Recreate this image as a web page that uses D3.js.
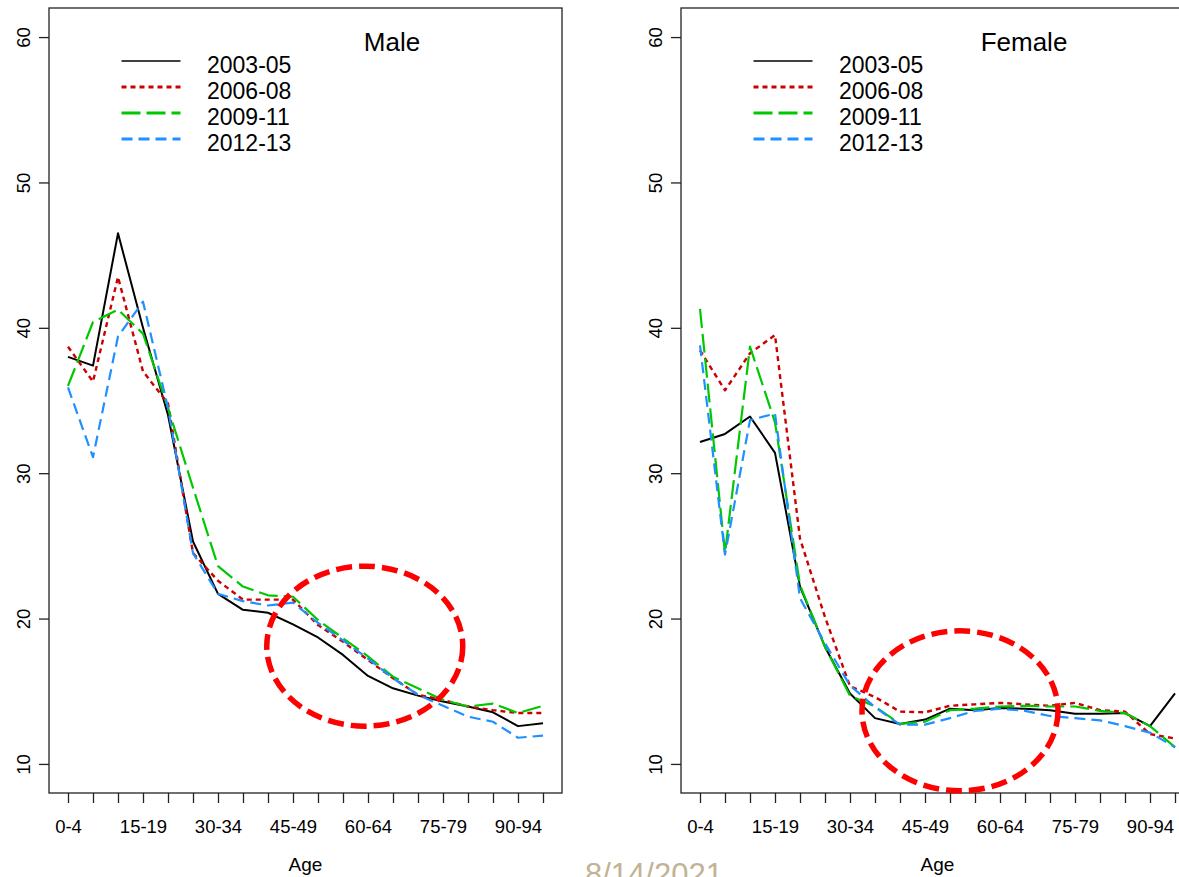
<!DOCTYPE html>
<html>
<head>
<meta charset="utf-8">
<script src="https://cdn.jsdelivr.net/npm/d3@7"></script>
<style>
  html, body { margin: 0; padding: 0; background: #fff; }
  svg { display: block; }
  text { font-family: "Liberation Sans", Arial, Helvetica, sans-serif; fill: #000; }
</style>
</head>
<body>
<svg id="chart" width="1179" height="877"></svg>
<script>
// Age groups on the x axis (every third one is labelled)
const ageGroups = ["0-4","5-9","10-14","15-19","20-24","25-29","30-34","35-39","40-44","45-49",
                   "50-54","55-59","60-64","65-69","70-74","75-79","80-84","85-89","90-94","95-99"];
const labelledGroups = ["0-4","15-19","30-34","45-49","60-64","75-79","90-94"];
const periods = ["2003-05","2006-08","2009-11","2012-13"];
const yTicks = [10, 20, 30, 40, 50, 60];

// Male rates by period
const male2003 = [38.0, 37.4, 46.5, 40.0, 34.0, 25.3, 21.7, 20.6, 20.4, 19.6, 18.7, 17.5, 16.05, 15.2, 14.7, 14.3, 13.95, 13.55, 12.6, 12.8];
const male2006 = [38.7, 36.3, 43.5, 37.0, 34.8, 24.5, 22.6, 21.3, 21.3, 21.3, 19.55, 18.4, 17.15, 15.9, 14.75, 14.4, 13.95, 13.7, 13.5, 13.5];
const male2009 = [36.0, 40.4, 41.25, 39.6, 34.5, 29.0, 23.6, 22.2, 21.6, 21.5, 19.9, 18.65, 17.4, 16.0, 15.2, 14.4, 13.95, 14.15, 13.5, 14.0];
const male2012 = [35.9, 31.1, 39.4, 41.8, 34.5, 24.5, 21.7, 21.2, 20.9, 21.1, 19.7, 18.5, 17.25, 15.9, 14.75, 14.0, 13.25, 12.9, 11.8, 11.95];

// Female rates by period
const female2003 = [32.15, 32.7, 33.9, 31.4, 22.2, 18.05, 14.85, 13.15, 12.75, 13.05, 13.8, 13.7, 13.85, 13.8, 13.7, 13.45, 13.45, 13.5, 12.6, 14.85];
const female2006 = [38.45, 35.7, 38.25, 39.5, 25.5, 20.1, 15.35, 14.6, 13.6, 13.55, 14.0, 14.1, 14.2, 14.1, 14.0, 14.2, 13.7, 13.6, 12.05, 11.75];
const female2009 = [41.3, 24.5, 38.7, 33.5, 22.3, 18.05, 14.7, 13.95, 12.75, 12.9, 13.7, 13.8, 13.95, 14.0, 13.95, 13.95, 13.65, 13.5, 12.6, 11.15];
const female2012 = [38.8, 24.4, 33.65, 34.1, 21.4, 18.3, 15.4, 13.9, 12.7, 12.7, 13.15, 13.65, 13.8, 13.65, 13.3, 13.15, 13.0, 12.6, 12.15, 11.15];

// Line styles per period
const periodColors = ["#000000", "#cd0000", "#00c800", "#1e90ff"];
const periodDash = [null, "5,4", "19,6", "11,6"];
const periodWidth = [2, 2.4, 2.2, 2.2];
const legendWidth = [1.5, 3, 3, 3];

const panels = [
  { title: "Male",   left: 49,  series: [male2003, male2006, male2009, male2012],         circle: { i: 11.87, v: 18.1 } },
  { title: "Female", left: 681, series: [female2003, female2006, female2009, female2012], circle: { i: 10.4,  v: 13.65 } }
];

const svg = d3.select("#chart");
svg.append("rect").attr("width", 1179).attr("height", 877).attr("fill", "#fff");

const panelWidth = 513;
const n = ageGroups.length;
const pad = 0.04 * (n - 1);

panels.forEach(p => {
  const g = svg.append("g").attr("transform", `translate(${p.left},0)`);
  const x = d3.scaleLinear().domain([-pad, n - 1 + pad]).range([0, panelWidth]);
  const y = d3.scaleLinear().domain([8, 62]).range([793, 8]);

  // y axis with rotated labels
  const ya = g.append("g").call(d3.axisLeft(y).tickValues(yTicks).tickSize(10));
  ya.select(".domain").remove();
  ya.selectAll(".tick line").attr("stroke", "#222").attr("stroke-width", 1.3);
  ya.selectAll(".tick text")
    .attr("x", 0).attr("y", -19).attr("dy", null)
    .attr("text-anchor", "middle")
    .attr("transform", "rotate(-90)")
    .style("font-size", "18.5px")
    .attr("fill", "#000");

  // x axis
  const xa = g.append("g").attr("transform", "translate(0,793)")
    .call(d3.axisBottom(x).tickValues(d3.range(n)).tickSize(10).tickPadding(17)
      .tickFormat(i => labelledGroups.includes(ageGroups[i]) ? ageGroups[i] : ""));
  xa.select(".domain").remove();
  xa.selectAll(".tick line").attr("stroke", "#222").attr("stroke-width", 1.3);
  xa.selectAll(".tick text").style("font-size", "18.5px").attr("fill", "#000");

  // frame
  g.append("rect")
    .attr("x", 0).attr("y", 8).attr("width", panelWidth).attr("height", 785)
    .attr("fill", "none").attr("stroke", "#222").attr("stroke-width", 1.3);

  // series lines
  const line = d3.line().x((d, i) => x(i)).y(d => y(d));
  p.series.forEach((s, k) => {
    g.append("path").datum(s)
      .attr("d", line)
      .attr("fill", "none")
      .attr("stroke", periodColors[k])
      .attr("stroke-width", periodWidth[k])
      .attr("stroke-dasharray", periodDash[k])
      .attr("stroke-linejoin", "round");
  });

  // title and legend
  g.append("text").attr("x", 343).attr("y", 51)
    .attr("text-anchor", "middle").style("font-size", "26px").text(p.title);
  periods.forEach((name, k) => {
    const ly = 61 + 26 * k;
    g.append("line").attr("x1", 72.5).attr("x2", 131.5).attr("y1", ly).attr("y2", ly)
      .attr("stroke", periodColors[k]).attr("stroke-width", legendWidth[k])
      .attr("stroke-dasharray", periodDash[k]);
    g.append("text").attr("x", 158).attr("y", ly + 11.7)
      .style("font-size", "23px").text(name);
  });

  // axis title
  g.append("text").attr("x", panelWidth / 2).attr("y", 871)
    .attr("text-anchor", "middle").style("font-size", "19px").text("Age");

  // highlighted region
  g.append("ellipse")
    .attr("cx", x(p.circle.i)).attr("cy", y(p.circle.v))
    .attr("rx", 98).attr("ry", 80)
    .attr("fill", "none").attr("stroke", "#ff0000")
    .attr("stroke-width", 5.5).attr("stroke-dasharray", "16,7");
});

// date stamp
svg.append("text").attr("x", 585).attr("y", 885)
  .style("font-size", "31px").style("fill", "#c2b394").text("8/14/2021");
</script>
</body>
</html>
